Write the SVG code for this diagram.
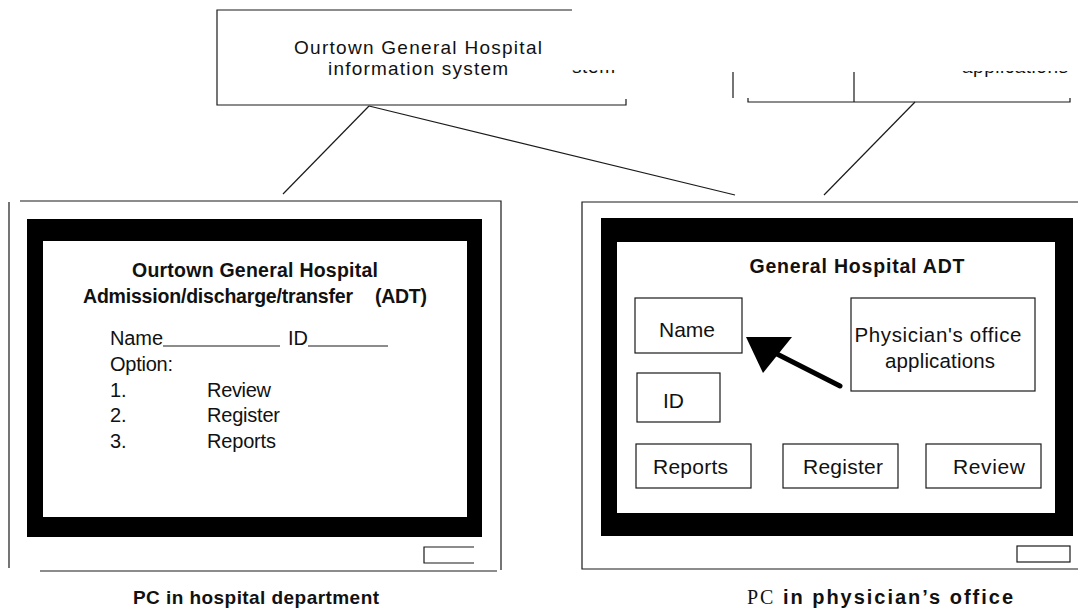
<svg xmlns="http://www.w3.org/2000/svg" width="1078" height="612" viewBox="0 0 1078 612">
<style>
.ln{fill:none;stroke:#1a1a1a;stroke-width:1.2}
.bx{fill:#fff;stroke:#1a1a1a;stroke-width:1.2}
.scr{fill:#000}
.t{font-family:"Liberation Sans",Arial,sans-serif;fill:#111}
.r{font-size:20px}
.rr{font-size:21px}
.b{font-size:19.5px;font-weight:bold}
.c{text-anchor:middle}
</style>
<defs>
<clipPath id="clipStem"><rect x="560" y="70" width="70" height="8"/></clipPath>
<clipPath id="clipApp"><rect x="950" y="71" width="128" height="8"/></clipPath>
</defs>

<g id="connectors">
<line class="ln" x1="369" y1="106" x2="283" y2="194"/>
<line class="ln" x1="369" y1="106" x2="735" y2="195"/>
<line class="ln" x1="915" y1="102" x2="824" y2="195"/>
</g>

<g id="hospital-system">
<path class="ln" d="M572,10 H217 V105 H626 V99"/>
<text class="t c" font-size="19" x="418" y="54" textLength="248">Ourtown General Hospital</text>
<text class="t c" font-size="19" x="418" y="75" textLength="180">information system</text>
<g clip-path="url(#clipStem)"><text class="t" x="572" y="73" font-size="19" textLength="43">stem</text></g>
</g>

<g id="physician-system">
<path class="ln" d="M733,72 V98 M748,98 V102 H1070 V98 M854,72 V102"/>
<g clip-path="url(#clipApp)"><text class="t" x="962" y="73" font-size="19" textLength="106">applications</text></g>
</g>

<g id="pc-hospital">
<path class="ln" d="M20,201 H501 V570 M9,202 V568 M40,571 H497"/>
<rect class="scr" x="27" y="219" width="455" height="318"/>
<rect x="43" y="241" width="424" height="276" fill="#fff"/>
<text class="t b c" x="255" y="277" textLength="246">Ourtown  General  Hospital</text>
<text class="t b" x="83" y="303" textLength="270">Admission/discharge/transfer</text>
<text class="t b" x="375" y="303" textLength="52">(ADT)</text>
<text class="t r" x="110" y="345" textLength="53">Name</text>
<line class="ln" x1="163" y1="346" x2="280" y2="346"/>
<text class="t r" x="288" y="345">ID</text>
<line class="ln" x1="308" y1="346" x2="388" y2="346"/>
<text class="t r" x="110" y="371" textLength="63">Option:</text>
<text class="t r" x="110" y="397">1.</text>
<text class="t r" x="207" y="397" textLength="64">Review</text>
<text class="t r" x="110" y="422">2.</text>
<text class="t r" x="207" y="422" textLength="73">Register</text>
<text class="t r" x="110" y="448">3.</text>
<text class="t r" x="207" y="448" textLength="69">Reports</text>
<path class="ln" d="M474,547 H424 V563 H474"/>
<text class="t c" font-size="19" font-weight="bold" x="256" y="604" textLength="246">PC  in  hospital  department</text>
</g>

<g id="pc-physician">
<path class="ln" d="M1078,202 H582 V569 H1078"/>
<rect class="scr" x="601" y="218" width="472" height="318"/>
<rect x="617" y="242" width="438" height="271" fill="#fff"/>
<text class="t b c" x="857" y="273" textLength="215">General  Hospital  ADT</text>
<g id="btn-name"><rect class="bx" x="635" y="298" width="107" height="55"/>
<text class="t rr" x="659" y="337" textLength="56">Name</text></g>
<g id="btn-id"><rect class="bx" x="637" y="373" width="83" height="49"/>
<text class="t rr" x="663" y="408">ID</text></g>
<g id="phys-apps"><rect class="bx" x="851" y="298" width="184" height="93"/>
<text class="t c" font-size="20.5" x="938" y="342" textLength="167">Physician's office</text>
<text class="t c" font-size="20.5" x="940" y="368" textLength="110">applications</text></g>
<g id="btn-reports"><rect class="bx" x="636" y="444" width="115" height="44"/>
<text class="t rr" x="653" y="474" textLength="75">Reports</text></g>
<g id="btn-register"><rect class="bx" x="783" y="444" width="115" height="44"/>
<text class="t rr" x="803" y="474" textLength="80">Register</text></g>
<g id="btn-review"><rect class="bx" x="926" y="444" width="115" height="44"/>
<text class="t rr" x="953" y="474" textLength="72">Review</text></g>
<line x1="840" y1="386" x2="775" y2="353" stroke="#000" stroke-width="5" stroke-linecap="round"/>
<polygon points="746,337 792,337 763,373" fill="#000"/>
<rect class="bx" x="1017" y="546" width="53" height="16"/>
<text x="747" y="604" font-size="20" textLength="266" class="t"><tspan font-family="Liberation Serif,Times New Roman,serif" font-weight="normal">PC</tspan><tspan font-weight="bold"> in  physician’s  office</tspan></text>
</g>
</svg>
